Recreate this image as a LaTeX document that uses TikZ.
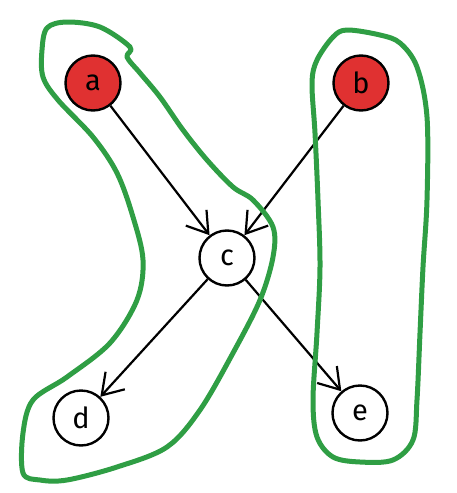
\documentclass[tikz,border=0pt]{standalone}
\usepackage{fontspec}
\setmainfont{Fira Sans}
\usetikzlibrary{arrows.meta}
\definecolor{exred}{HTML}{E03131}
\definecolor{exgreen}{HTML}{2F9E44}
\begin{document}
\begin{tikzpicture}[x=1pt,y=-1pt,
  vnode/.style={circle,draw=black,line width=2.4pt,minimum size=55pt,inner sep=0pt,font=\fontsize{29}{29}\selectfont},
  rednode/.style={vnode,fill=exred},
  edge/.style={draw=black,line width=2.2pt,-{Straight Barb[length=20pt,width=26pt,line width=2.2pt]}},
  group/.style={draw=exgreen,line width=5pt,line join=round}]
\useasboundingbox (0,0) rectangle (456,493);
\node[rednode] (a) at (93,83) {a};
\node[rednode] (b) at (361,83) {b};
\node[vnode] (c) at (227,258) {c};
\node[vnode] (d) at (81,418) {d};
\node[vnode] (e) at (360,413) {e};
\draw[edge] (a) -- (c);
\draw[edge] (b) -- (c);
\draw[edge] (c) -- (d);
\draw[edge] (c) -- (e);
\draw[group] plot[smooth cycle,tension=0.55] coordinates {
 (130,47) (100,27) (67,22) (47,28) (42,50) (43,77) (58,100) (93,137)
 (117,173) (133,217) (143,260) (137,300) (110,343) (67,377) (33,400)
 (23,433) (23,473) (40,480) (67,480) (117,467) (167,447) (200,410)
 (233,353) (260,300) (273,257) (273,227) (253,200) (233,187) (207,160)
 (183,130) (160,97) (140,73) (127,57)};
\draw[group] plot[smooth cycle,tension=0.55] coordinates {
 (347,30) (380,35) (400,43) (417,67) (427,117) (427,200) (423,267)
 (420,333) (417,400) (413,440) (393,460) (360,462) (333,457) (317,437)
 (313,400) (317,333) (320,267) (318,200) (315,133) (312,83) (317,60) (333,37)};
\end{tikzpicture}
\end{document}
